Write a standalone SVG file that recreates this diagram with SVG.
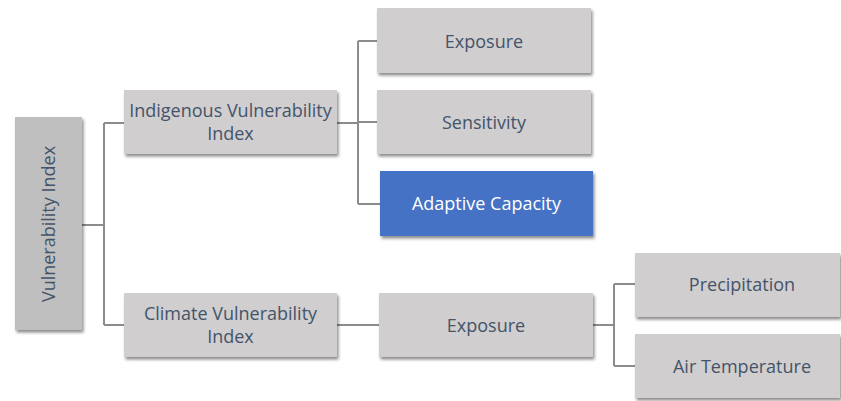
<svg xmlns="http://www.w3.org/2000/svg" width="841" height="401" viewBox="0 0 841 401">
  <defs>
    <filter id="shadow" x="-10%" y="-10%" width="130%" height="140%">
      <feDropShadow dx="1.5" dy="2.5" stdDeviation="1.5" flood-color="#000" flood-opacity="0.45"/>
    </filter>
  </defs>
  <style>
    .box { fill: #d0cece; filter: url(#shadow); }
    .root { fill: #bfbfbf; }
    .accent { fill: #4472c4; }
    .label { font-family: "Open Sans", "Liberation Sans", sans-serif; font-size: 18px; fill: #44546a; text-anchor: middle; dominant-baseline: central; }
    .light { fill: #ffffff; }
    .wire { fill: none; stroke: #8c8c8c; stroke-width: 2; }
  </style>
  <rect width="841" height="401" fill="#ffffff"/>

  <!-- tree connectors -->
  <g id="connectors">
    <path class="wire" d="M82,225 H104 M104,123 V325 M104,123 H124 M104,325 H124"/>
    <path class="wire" d="M337,123 H358 M358,41 V204 M358,41 H377 M358,122 H377 M358,204 H380"/>
    <path class="wire" d="M337,325 H379"/>
    <path class="wire" d="M593,325 H614 M614,284 V366 M614,284 H635 M614,366 H635"/>
  </g>

  <g id="vulnerability-index">
    <rect class="box root" x="15" y="117" width="67" height="213"/>
    <text class="label" transform="translate(48,224) rotate(-90)">Vulnerability Index</text>
  </g>

  <g id="indigenous-vulnerability-index">
    <rect class="box" x="124" y="90" width="213" height="64"/>
    <text class="label" x="230.5" y="110">Indigenous Vulnerability</text>
    <text class="label" x="230.5" y="133">Index</text>
  </g>

  <g id="climate-vulnerability-index">
    <rect class="box" x="124" y="293" width="213" height="64"/>
    <text class="label" x="230.5" y="313">Climate Vulnerability</text>
    <text class="label" x="230.5" y="336">Index</text>
  </g>

  <g id="exposure-indigenous">
    <rect class="box" x="377" y="8" width="214" height="65"/>
    <text class="label" x="484" y="41">Exposure</text>
  </g>

  <g id="sensitivity">
    <rect class="box" x="377" y="90" width="214" height="64"/>
    <text class="label" x="484" y="122">Sensitivity</text>
  </g>

  <g id="adaptive-capacity">
    <rect class="box accent" x="380" y="171" width="213" height="65"/>
    <text class="label light" x="486.5" y="203">Adaptive Capacity</text>
  </g>

  <g id="exposure-climate">
    <rect class="box" x="379" y="293" width="214" height="64"/>
    <text class="label" x="486" y="325">Exposure</text>
  </g>

  <g id="precipitation">
    <rect class="box" x="635" y="253" width="205" height="64"/>
    <text class="label" x="742" y="284">Precipitation</text>
  </g>

  <g id="air-temperature">
    <rect class="box" x="635" y="334" width="205" height="64"/>
    <text class="label" x="742" y="366">Air Temperature</text>
  </g>
</svg>
